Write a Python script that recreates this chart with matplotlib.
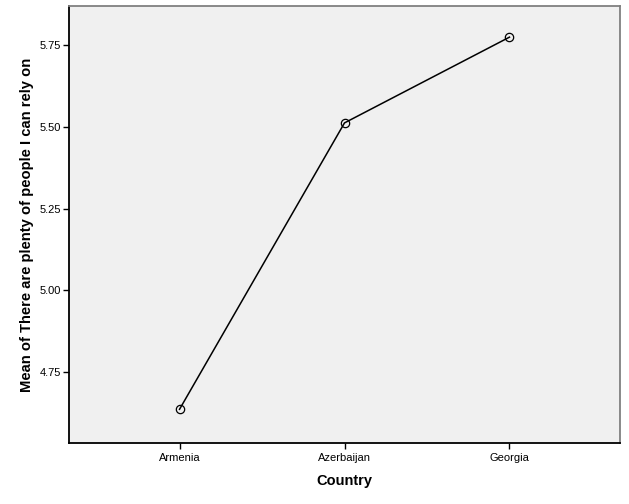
import matplotlib.pyplot as plt

countries = ['Armenia', 'Azerbaijan', 'Georgia']
means = [4.637, 5.512, 5.774]
yticks = [4.75, 5.00, 5.25, 5.50, 5.75]

plt.rcParams['font.family'] = ['Liberation Sans', 'DejaVu Sans']

fig = plt.figure(figsize=(6.29, 5.04), dpi=100)
ax = fig.add_axes([0.1097, 0.121, 0.876, 0.867])
ax.set_facecolor('#f0f0f0')

x = range(len(countries))
ax.plot(x, means, color='black', linewidth=1.1, marker='o', markersize=6,
        markerfacecolor='none', markeredgecolor='black', markeredgewidth=0.9)

ax.set_xlim(-0.67, 2.67)
ax.set_ylim(4.534, 5.869)
ax.set_xticks(list(x))
ax.set_xticklabels(countries)
ax.set_yticks(yticks)
ax.set_yticklabels(['%.2f' % v for v in yticks])
ax.tick_params(labelsize=8, length=4, width=1, color='black')
ax.tick_params(axis='x', pad=3)
ax.tick_params(axis='y', pad=2)

for side in ['left', 'bottom']:
    ax.spines[side].set_color('black')
    ax.spines[side].set_linewidth(1.3)
for side in ['top', 'right']:
    ax.spines[side].set_color('#808080')
    ax.spines[side].set_linewidth(1.3)

ax.set_xlabel('Country', fontsize=10.5, fontweight='bold')
ax.set_ylabel('Mean of There are plenty of people I can rely on', fontsize=10.6,
              fontweight='bold')
ax.xaxis.set_label_coords(0.5, -0.071)
ax.yaxis.set_label_coords(-0.0635, 0.5)

fig.savefig('out.png', dpi=100)
